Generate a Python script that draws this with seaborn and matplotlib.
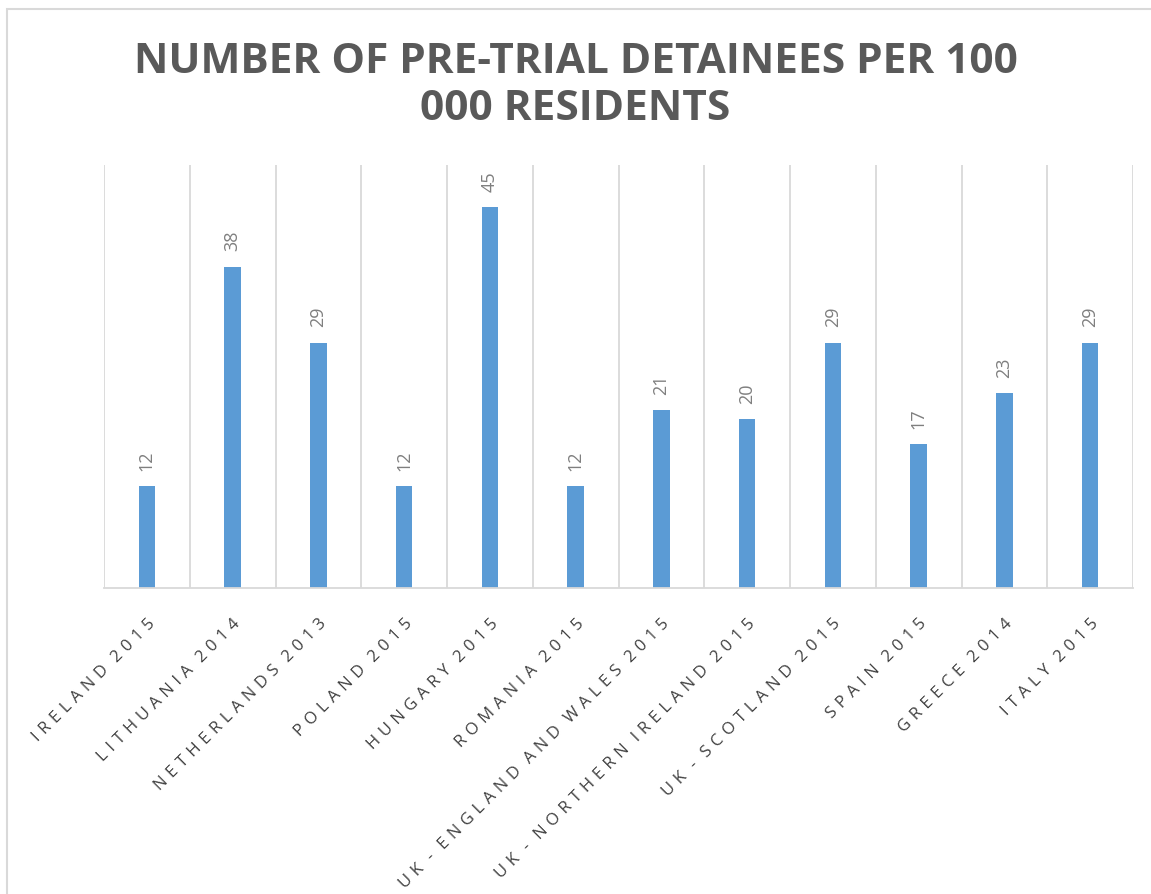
import matplotlib
matplotlib.use("Agg")
import matplotlib.pyplot as plt
import seaborn as sns
import pandas as pd
from matplotlib.patches import Rectangle

categories = ["IRELAND 2015", "LITHUANIA 2014", "NETHERLANDS 2013", "POLAND 2015",
              "HUNGARY 2015", "ROMANIA 2015", "UK - ENGLAND AND WALES 2015",
              "UK - NORTHERN IRELAND 2015", "UK - SCOTLAND 2015", "SPAIN 2015",
              "GREECE 2014", "ITALY 2015"]
values = [12, 38, 29, 12, 45, 12, 21, 20, 29, 17, 23, 29]
title = "NUMBER OF PRE-TRIAL DETAINEES PER 100\n000 RESIDENTS"

sns.set_theme(style="white")
plt.rcParams['font.family'] = ['Open Sans', 'DejaVu Sans']

df = pd.DataFrame({"cat": categories, "val": values})

fig = plt.figure(figsize=(11.51, 8.94), dpi=100)
ax = fig.add_axes([104/1151, 1-588/894, (1133-104)/1151, (588-165)/894])

sns.barplot(data=df, x="cat", y="val", color="#5B9BD5", width=0.19, ax=ax,
            saturation=1, edgecolor="none")
ax.set_ylim(0, 50)
ax.set_xlim(-0.5, len(categories)-0.5)
ax.set_yticks([])
ax.set_xlabel("")
ax.set_ylabel("")

for i in range(len(categories)+1):
    ax.axvline(i-0.5, color="#D9D9D9", lw=1.3, zorder=0)
for s in ["top", "right", "left"]:
    ax.spines[s].set_visible(False)
ax.spines["bottom"].set_color("#D9D9D9")
ax.spines["bottom"].set_linewidth(1.3)

SEP = "\u2004"

def spaced(t):
    words = t.split(" ")
    return (SEP * 2).join(SEP.join(list(w)) for w in words)

ax.set_xticks(range(len(categories)))
ax.set_xticklabels([spaced(c) for c in categories], rotation=45, ha="right",
                   rotation_mode="anchor", fontsize=12, color="#404040")
ax.tick_params(axis="x", length=0, pad=20)

for i, v in enumerate(values):
    ax.text(i, v + 1.8, str(v), rotation=90, ha="center", va="bottom",
            fontsize=13, color="#7F7F7F")

fig.text(0.5, 1-86/894, title, ha="center", va="center", fontsize=30.5,
         fontweight="bold", color="#595959", linespacing=1.22)

fig.patches.append(Rectangle((7/1151, -0.01), 1.1, 1-9/894+0.01,
                             transform=fig.transFigure, fill=False,
                             edgecolor="#D9D9D9", lw=1.5, figure=fig))

fig.savefig("out.png", dpi=100)
